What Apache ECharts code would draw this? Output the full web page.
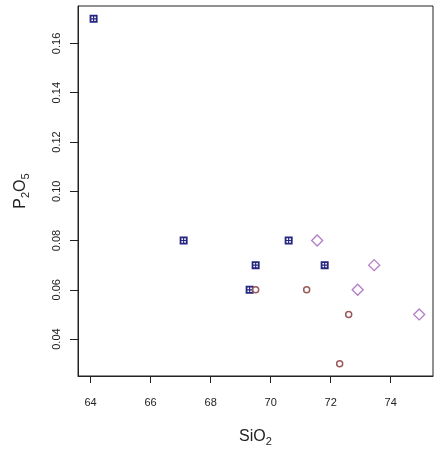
<!DOCTYPE html>
<html>
<head>
<meta charset="utf-8">
<script src="https://cdn.jsdelivr.net/npm/echarts@6/dist/echarts.min.js"></script>
<style>html,body{margin:0;padding:0;background:#fff}#c{width:436px;height:458px}</style>
</head>
<body>
<div id="c"></div>
<script>
// Group 1: filled squares
var squareSiO2 = [64.1, 67.1, 70.6, 69.5, 71.8, 69.3];
var squareP2O5 = [0.17, 0.08, 0.08, 0.07, 0.07, 0.06];
// Group 2: small circles
var circleSiO2 = [69.5, 71.2, 72.6, 72.3];
var circleP2O5 = [0.06, 0.06, 0.05, 0.03];
// Group 3: open diamonds
var diamondSiO2 = [71.55, 73.45, 72.9, 74.95];
var diamondP2O5 = [0.08, 0.07, 0.06, 0.05];
// Tick labels
var xTicks = [64, 66, 68, 70, 72, 74];
var yTicks = [0.04, 0.06, 0.08, 0.10, 0.12, 0.14, 0.16];

function pairs(xs, ys) { return xs.map(function (x, i) { return [x, ys[i]]; }); }

var squarePath = 'path://M0,0L8,0L8,8L0,8Z M1.8,1.8L1.8,3.4L3.4,3.4L3.4,1.8Z M4.6,1.8L4.6,3.4L6.2,3.4L6.2,1.8Z M1.8,4.6L1.8,6.2L3.4,6.2L3.4,4.6Z M4.6,4.6L4.6,6.2L6.2,6.2L6.2,4.6Z';

var chart = echarts.init(document.getElementById('c'));
chart.setOption({
  animation: false,
  backgroundColor: '#fff',
  grid: { left: 78, top: 6, right: 3, bottom: 82, show: true, borderColor: '#222', borderWidth: 1, containLabel: false },
  xAxis: {
    type: 'value', min: 63.58, max: 75.41,
    name: 'SiO{s|2}', nameLocation: 'middle', nameGap: 51,
    nameTextStyle: { fontFamily: 'Liberation Sans', fontSize: 16, color: '#222',
      rich: { s: { fontFamily: 'Liberation Sans', fontSize: 11, color: '#222', padding: [9, 0, 0, 0] } } },
    axisLine: { show: true, onZero: false, lineStyle: { color: '#222', width: 1 } },
    axisTick: { show: true, length: 7, lineStyle: { color: '#222' }, customValues: xTicks },
    axisLabel: { customValues: xTicks, margin: 21, fontFamily: 'Liberation Sans', fontSize: 11, color: '#222' },
    splitLine: { show: false }
  },
  yAxis: {
    type: 'value', min: 0.025, max: 0.1752,
    name: 'P{s|2}O{s|5}', nameLocation: 'middle', nameGap: 47, nameRotate: 90,
    nameTextStyle: { fontFamily: 'Liberation Sans', fontSize: 16, color: '#222',
      rich: { s: { fontFamily: 'Liberation Sans', fontSize: 11, color: '#222', padding: [9, 0, 0, 0] } } },
    axisLine: { show: true, onZero: false, lineStyle: { color: '#222', width: 1 } },
    axisTick: { show: true, length: 8, lineStyle: { color: '#222' }, customValues: yTicks },
    axisLabel: { customValues: yTicks, rotate: 90, margin: 16, fontFamily: 'Liberation Sans', fontSize: 11, color: '#222',
      formatter: function (v) { return v.toFixed(2); } },
    splitLine: { show: false }
  },
  series: [
    { type: 'scatter', data: pairs(squareSiO2, squareP2O5), symbol: squarePath, symbolSize: 8,
      itemStyle: { color: '#262680', opacity: 1 } },
    { type: 'scatter', data: pairs(circleSiO2, circleP2O5), symbol: 'circle', symbolSize: 6,
      itemStyle: { color: '#fff', borderColor: '#9a5a5a', borderWidth: 1.5, opacity: 1 } },
    { type: 'scatter', data: pairs(diamondSiO2, diamondP2O5), symbol: 'diamond', symbolSize: 11,
      itemStyle: { color: 'rgba(255,255,255,0)', borderColor: '#b47cc8', borderWidth: 1.3, opacity: 1 } }
  ]
});
</script>
</body>
</html>
